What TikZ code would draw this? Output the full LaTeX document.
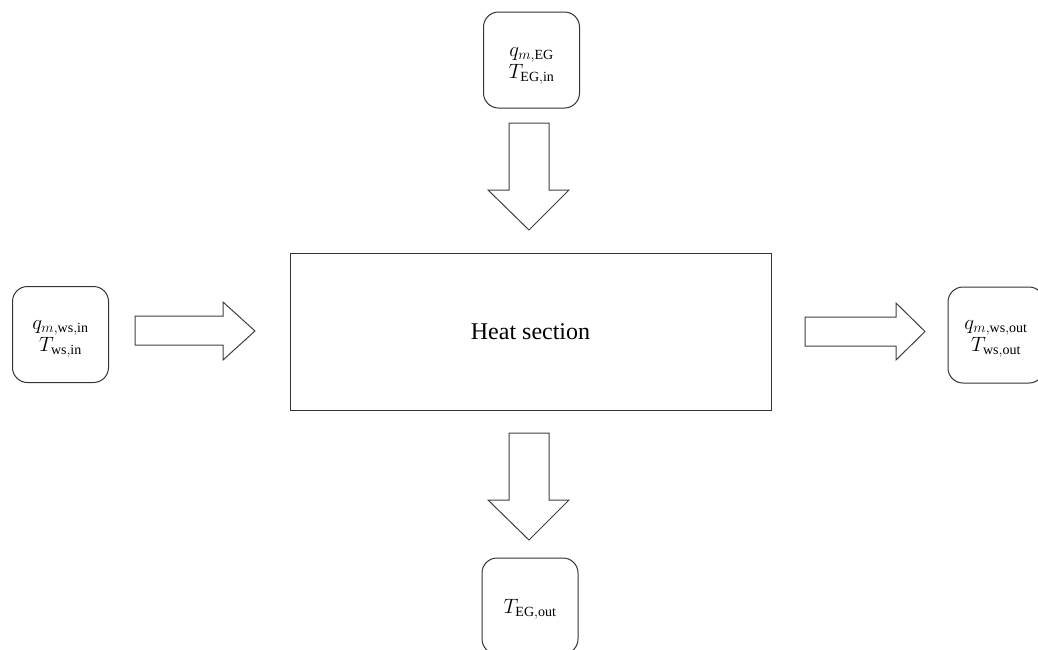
\documentclass[tikz,border=0pt]{standalone}
\usepackage{fontspec}
\setmainfont{Liberation Serif}
\begin{document}
\begin{tikzpicture}[x=1pt,y=-1pt,
  line width=1pt,
  mainbox/.style={draw=black!80, inner sep=0pt, minimum width=481pt, minimum height=157pt,
                  font=\fontsize{24}{28}\selectfont},
  varbox/.style={draw=black!80, rounded corners=15pt, minimum width=96pt, minimum height=96pt},
  vartext/.style={inner sep=0pt, align=center, font=\fontsize{20}{22}\selectfont},
  blockarrow/.style={draw=black!75, fill=white, line join=miter}]
  \useasboundingbox (0,0) rectangle (1038,649);
  \clip (0,0) rectangle (1038,649);

  % central block
  \node[mainbox] (heat) at (530.5,331.5) {Heat section};

  % inlet and outlet variable boxes
  \node[varbox] (egin)  at (531.5,60)   {};
  \node[varbox] (wsin)  at (60.5,334.5) {};
  \node[varbox] (wsout) at (996,335)    {};
  \node[varbox] (egout) at (530,606)    {};

  % their contents, set slightly below the box centres
  \node[vartext] (egin-t)  at ([yshift=-6pt]egin.center)  {$q_{m,\mathrm{EG}}$\\$T_{\mathrm{EG,in}}$};
  \node[vartext] (wsin-t)  at ([yshift=-4pt]wsin.center)  {$q_{m,\mathrm{ws,in}}$\\$T_{\mathrm{ws,in}}$};
  \node[vartext] (wsout-t) at ([yshift=-4pt]wsout.center) {$q_{m,\mathrm{ws,out}}$\\$T_{\mathrm{ws,out}}$};
  \node[vartext] (egout-t) at ([yshift=-3pt]egout.center) {$T_{\mathrm{EG,out}}$};

  % block arrows: exhaust gas down, water/steam left to right
  \draw[blockarrow] (509,123) -- (549,123) -- (549,190) -- (569,190) -- (529,230)
        -- (488,190) -- (509,190) -- cycle;
  \draw[blockarrow] (135,316) -- (223,316) -- (223,302) -- (255,331) -- (223,360)
        -- (223,345) -- (135,345) -- cycle;
  \draw[blockarrow] (805,317) -- (896,317) -- (896,303) -- (925,331.5) -- (896,360)
        -- (896,346) -- (805,346) -- cycle;
  \draw[blockarrow] (509,433) -- (549,433) -- (549,500) -- (569,500) -- (529,540)
        -- (488,500) -- (509,500) -- cycle;
\end{tikzpicture}
\end{document}
